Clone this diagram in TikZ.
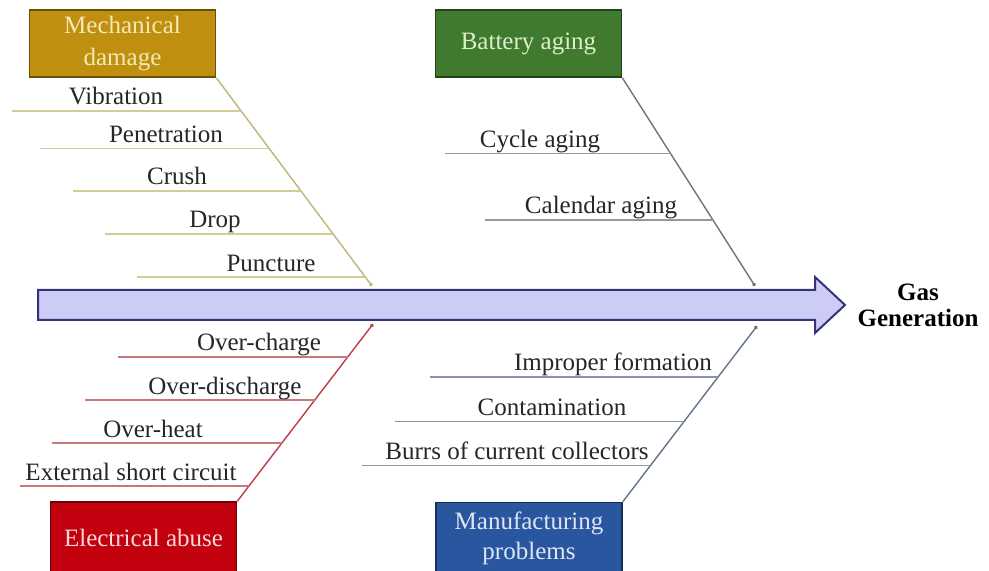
\documentclass[tikz,border=0pt]{standalone}
\usepackage{fontspec}
\setmainfont{Liberation Serif}
\usetikzlibrary{calc,arrows.meta}

\definecolor{mdgold}{HTML}{BF900F}
\definecolor{mdtext}{HTML}{F6E8B4}
\definecolor{bagreen}{HTML}{3F7A2E}
\definecolor{batext}{HTML}{DCF0CC}
\definecolor{eared}{HTML}{C2000E}
\definecolor{eatext}{HTML}{F8D8D8}
\definecolor{mpblue}{HTML}{2A56A0}
\definecolor{mptext}{HTML}{DDE6F5}
\definecolor{flow}{HTML}{CCCCF6}

\begin{document}
\begin{tikzpicture}[x=0.5pt,y=-0.5pt,
    font=\fontsize{12.5}{15}\selectfont,
    box/.style={draw=#1!55!black, fill=#1, line width=0.8pt,
      minimum width=93pt, minimum height=33.5pt, align=center, inner sep=2pt},
    cause/.style={anchor=base, text=black!85, inner sep=0pt},
    bone/.style={line width=0.6pt, -{Circle[length=1.8pt]}},
    mdline/.style={draw={rgb,255:red,212;green,204;blue,152}, line width=0.7pt},
    baline/.style={draw=black!40, line width=0.7pt},
    ealine/.style={draw={rgb,255:red,200;green,120;blue,120}, line width=0.7pt},
    mpline/.style={draw={rgb,255:red,138;green,150;blue,168}, line width=0.7pt}]
    \useasboundingbox (0,0) rectangle (989,571);
    \clip (0,0) rectangle (989,571);

    % main flow arrow
    \draw [fill=flow, draw=black!65!blue!80, line width=1pt]
      (38,290) -- (815,290) -- (815,277) -- (845,305) -- (815,333)
      -- (815,320) -- (38,320) -- cycle;
    \node [font=\fontsize{12.5}{13}\selectfont\bfseries, align=center] (gas)
      at (918,305) {Gas\\Generation};

    % the four categories
    \node [box=mdgold, text=mdtext] (md) at (122.5,43.5) {Mechanical\\[1pt]damage};
    \node [box=bagreen, text=batext] (ba) at (528.5,43.5) {Battery aging};
    \node [box=eared, text=eatext, minimum height=36pt] (ea) at (143.5,538) {Electrical abuse};
    \node [box=mpblue, text=mptext, minimum height=36pt] (mp) at (529,538.5) {Manufacturing\\problems};

    \coordinate (mdtip) at (372,286);
    \coordinate (batip) at (755,286);
    \coordinate (eatip) at (373,324);
    \coordinate (mptip) at (757,326);

    \draw [bone, mdline, draw={rgb,255:red,190;green,180;blue,120}] (md.south east) -- (mdtip);
    \draw [bone, baline, draw=black!55] (ba.south east) -- (batip);
    \draw [bone, ealine, draw={rgb,255:red,190;green,60;blue,70}] (ea.north east) -- (eatip);
    \draw [bone, mpline, draw={rgb,255:red,100;green,115;blue,140}] (mp.north east) -- (mptip);

    % causes
    \foreach \t/\xl/\xc/\txt [count=\i] in {0.159/12/116/Vibration,
        0.341/40/166/Penetration, 0.543/73/177/Crush, 0.75/105/215/Drop,
        0.957/137/271/Puncture} {
      \coordinate (md\i) at ($(md.south east)!\t!(mdtip)$);
      \draw [mdline] (md\i) -- (md\i -| \xl,0);
      \node [cause] at ($(md\i -| \xc,0)+(0,-6)$) {\txt};
    }
    \foreach \t/\xl/\xc/\txt [count=\i] in {0.365/445/540/Cycle aging,
        0.683/485/601/Calendar aging} {
      \coordinate (ba\i) at ($(ba.south east)!\t!(batip)$);
      \draw [baline] (ba\i) -- (ba\i -| \xl,0);
      \node [cause] at ($(ba\i -| \xc,0)+(0,-6)$) {\txt};
    }
    \foreach \t/\xl/\xc/\txt [count=\i] in {0.814/118/259/Over-charge,
        0.571/85/225/Over-discharge, 0.328/52/153/Over-heat,
        0.085/20/131/External short circuit} {
      \coordinate (ea\i) at ($(ea.north east)!\t!(eatip)$);
      \draw [ealine] (ea\i) -- (ea\i -| \xl,0);
      \node [cause] at ($(ea\i -| \xc,0)+(0,-6)$) {\txt};
    }
    \foreach \t/\xl/\xc/\txt [count=\i] in {0.710/430/613/Improper formation,
        0.455/395/552/Contamination, 0.205/362/517/Burrs of current collectors} {
      \coordinate (mp\i) at ($(mp.north east)!\t!(mptip)$);
      \draw [mpline] (mp\i) -- (mp\i -| \xl,0);
      \node [cause] at ($(mp\i -| \xc,0)+(0,-6)$) {\txt};
    }
  \end{tikzpicture}
\end{document}
